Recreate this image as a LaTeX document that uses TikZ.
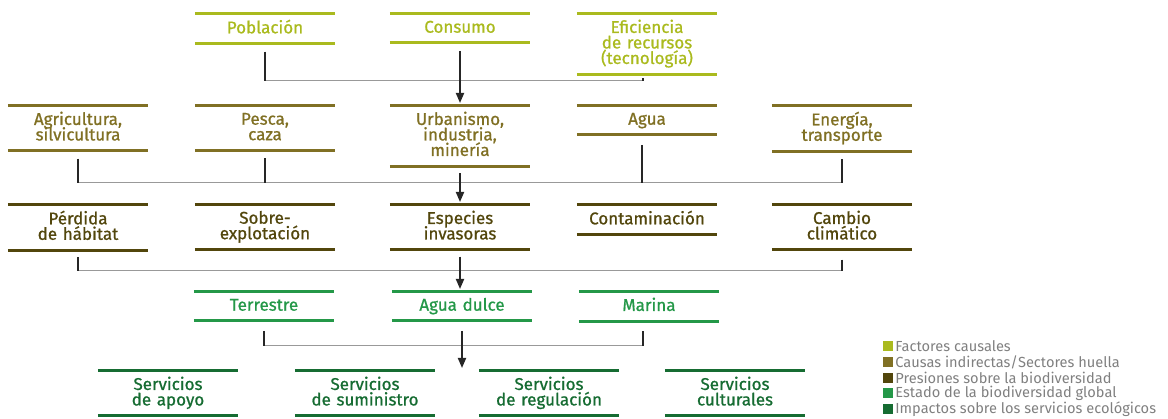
\documentclass[tikz,border=0pt]{standalone}
\usepackage{fontspec}
\setmainfont{Fira Sans}
\newfontfamily\boxfont{Fira Sans}[FakeBold=0.9]
\usetikzlibrary{arrows.meta,positioning}
\definecolor{factor}{RGB}{170,186,30}
\definecolor{causa}{RGB}{128,112,36}
\definecolor{presion}{RGB}{82,70,12}
\definecolor{estado}{RGB}{36,152,72}
\definecolor{impacto}{RGB}{22,108,50}
\definecolor{leyenda}{RGB}{128,128,128}
\newcommand{\bstrut}{\rule[-4.5pt]{0pt}{17.5pt}}

\begin{document}
\begin{tikzpicture}[x=1pt,y=-1pt]
\tikzstyle{box} = [anchor=north, text=#1, text width=140pt, align=center, inner xsep=0pt, inner ysep=5.5pt,
  font=\boxfont\fontsize{17}{15.5}\selectfont, execute at begin node={\lineskiplimit=-30pt\bstrut}, execute at end node=\bstrut,
  append after command={(\tikzlastnode.north west) edge[draw=#1, line width=3pt] (\tikzlastnode.north east)
  (\tikzlastnode.south west) edge[draw=#1, line width=3pt] (\tikzlastnode.south east)}]
\tikzstyle{vline} = [draw=black!85, line width=1.3pt]
\tikzstyle{hline} = [draw=black!40, line width=1pt]
\tikzstyle{arr} = [draw=black!85, line width=1.8pt, -{Triangle[length=10pt,width=8pt]}, shorten >=3pt]
\tikzstyle{sq} = [minimum size=10pt, inner sep=0pt]
\tikzstyle{leg} = [text=leyenda, inner sep=0pt, font=\fontsize{14.6}{16}\selectfont]
\useasboundingbox (0,0) rectangle (1168,419);

\node [box=factor] (p1) at (265, 14) {Población};
\node [box=factor] (p2) at (460, 14) {Consumo};
\node [box=factor] (p3) at (647, 14) {Eficiencia\\de recursos\\(tecnología)};
\coordinate (h1) at (0, 81);
\draw [hline] ([xshift=-0.6pt]p1.south |- h1) -- ([xshift=-4pt]p3.south |- h1);
\draw [vline] ([yshift=-8pt]p1.south) -- (p1.south |- h1);
\draw [vline] ([xshift=-4pt,yshift=-4pt]p3.south) -- ([xshift=-4pt]p3.south |- h1);
\draw [arr] ([yshift=-8pt]p2.south) -- (p2.south |- 0,106);

\node [box=causa] (s1) at (78, 106) {Agricultura,\\silvicultura};
\node [box=causa] (s2) at (265, 106) {Pesca,\\caza};
\node [box=causa] (s3) at (460, 106) {Urbanismo,\\industria,\\minería};
\node [box=causa] (s4) at (647, 106) {Agua};
\node [box=causa] (s5) at (842, 106) {Energía,\\transporte};
\coordinate (h2) at (0, 183);
\draw [hline] ([xshift=-0.6pt]s1.south |- h2) -- ([xshift=0.6pt]s5.south |- h2);
\draw [vline] ([yshift=-8pt]s1.south) -- (s1.south |- h2);
\draw [vline] ([yshift=-8pt]s2.south) -- (s2.south |- h2);
\draw [vline] ([xshift=-5pt,yshift=-10pt]s4.south) -- ([xshift=-5pt]s4.south |- h2);
\draw [vline] ([yshift=-8pt]s5.south) -- (s5.south |- h2);
\draw [arr] ([yshift=-7pt]s3.south) -- (s3.south |- 0,205);

\node [box=presion] (q1) at (78, 205) {Pérdida\\de hábitat};
\node [box=presion] (q2) at (265, 205) {Sobre-\\explotación};
\node [box=presion] (q3) at (460, 205) {Especies\\invasoras};
\node [box=presion] (q4) at (647, 205) {Contaminación};
\node [box=presion] (q5) at (842, 205) {Cambio\\climático};
\coordinate (h3) at (0, 271);
\draw [hline] ([xshift=-0.6pt]q1.south |- h3) -- ([xshift=0.6pt]q5.south |- h3);
\draw [vline] ([yshift=-7pt]q1.south) -- (q1.south |- h3);
\draw [vline] ([yshift=-10pt]q5.south) -- (q5.south |- h3);
\draw [arr] ([yshift=-7pt]q3.south) -- (q3.south |- 0,292);

\node [box=estado] (e1) at (264, 292) {Terrestre};
\node [box=estado] (e2) at (462, 292) {Agua dulce};
\node [box=estado] (e3) at (649, 292) {Marina};
\coordinate (h4) at (0, 346);
\draw [hline] ([xshift=-0.6pt]e1.south |- h4) -- ([xshift=-6pt]e3.south |- h4);
\draw [vline] ([yshift=-10pt]e1.south) -- (e1.south |- h4);
\draw [vline] ([xshift=-6pt,yshift=-10pt]e3.south) -- ([xshift=-6pt]e3.south |- h4);

\node [box=impacto] (i1) at (168, 371) {Servicios\\de apoyo};
\node [box=impacto] (i2) at (365, 371) {Servicios\\de suministro};
\node [box=impacto] (i3) at (549, 371) {Servicios\\de regulación};
\node [box=impacto] (i4) at (735, 371) {Servicios\\culturales};
\draw [arr] ([yshift=-10pt]e2.south) -- (e2.south |- i2.north);

\node [sq, fill=factor] (l1) at (888, 346) {};
\node [sq, fill=causa] (l2) at (888, 362) {};
\node [sq, fill=presion] (l3) at (888, 378) {};
\node [sq, fill=estado] (l4) at (888, 393.5) {};
\node [sq, fill=impacto] (l5) at (888, 409) {};
\node [leg, right=2pt of l1] (t1) {Factores causales};
\node [leg, right=2pt of l2] (t2) {Causas indirectas/Sectores huella};
\node [leg, right=2pt of l3] (t3) {Presiones sobre la biodiversidad};
\node [leg, right=2pt of l4] (t4) {Estado de la biodiversidad global};
\node [leg, right=2pt of l5] (t5) {Impactos sobre los servicios ecológicos};
\end{tikzpicture}
\end{document}
